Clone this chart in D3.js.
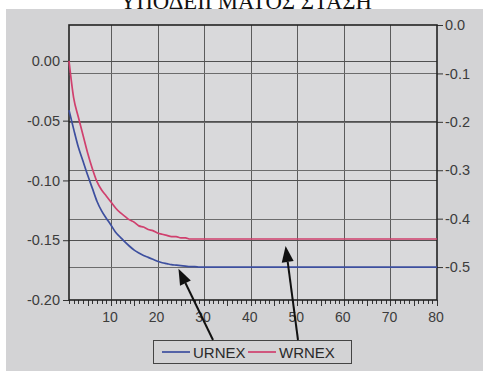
<!DOCTYPE html>
<html>
<head>
<meta charset="utf-8">
<script src="https://cdn.jsdelivr.net/npm/d3@7"></script>
<style>
  body { margin: 0; background: #fff; }
  svg { display: block; }
</style>
</head>
<body>
<svg id="chart" width="483" height="371"></svg>
<script>
// Impulse responses over 80 periods
const periods = d3.range(1, 81);

// URNEX, read against the right-hand axis
const urnex = [
  -0.176, -0.215, -0.252, -0.281, -0.310, -0.337, -0.364, -0.384, -0.399, -0.413,
  -0.428, -0.438, -0.448, -0.457, -0.465, -0.471, -0.476, -0.480, -0.484, -0.488,
  -0.491, -0.493, -0.495, -0.496, -0.497, -0.498, -0.499, -0.499, -0.500, -0.500,
  -0.500, -0.500, -0.500, -0.500, -0.500, -0.500, -0.500, -0.500, -0.500, -0.500,
  -0.500, -0.500, -0.500, -0.500, -0.500, -0.500, -0.500, -0.500, -0.500, -0.500,
  -0.500, -0.500, -0.500, -0.500, -0.500, -0.500, -0.500, -0.500, -0.500, -0.500,
  -0.500, -0.500, -0.500, -0.500, -0.500, -0.500, -0.500, -0.500, -0.500, -0.500,
  -0.500, -0.500, -0.500, -0.500, -0.500, -0.500, -0.500, -0.500, -0.500, -0.500
];

// WRNEX, read against the left-hand axis
const wrnex = [
   0.000, -0.031, -0.047, -0.062, -0.077, -0.090, -0.101, -0.108, -0.113, -0.118,
  -0.123, -0.127, -0.130, -0.133, -0.135, -0.138, -0.139, -0.141, -0.142, -0.144,
  -0.145, -0.146, -0.147, -0.147, -0.148, -0.148, -0.149, -0.149, -0.149, -0.149,
  -0.149, -0.149, -0.149, -0.149, -0.149, -0.149, -0.149, -0.149, -0.149, -0.149,
  -0.149, -0.149, -0.149, -0.149, -0.149, -0.149, -0.149, -0.149, -0.149, -0.149,
  -0.149, -0.149, -0.149, -0.149, -0.149, -0.149, -0.149, -0.149, -0.149, -0.149,
  -0.149, -0.149, -0.149, -0.149, -0.149, -0.149, -0.149, -0.149, -0.149, -0.149,
  -0.149, -0.149, -0.149, -0.149, -0.149, -0.149, -0.149, -0.149, -0.149, -0.149
];

const leftTicks = [0, -0.05, -0.10, -0.15, -0.20];
const rightTicks = [0, -0.1, -0.2, -0.3, -0.4, -0.5];
const xTicks = [10, 20, 30, 40, 50, 60, 70, 80];
const seriesNames = ["URNEX", "WRNEX"];
const titleText = "ΥΠΟΔΕΙΓΜΑΤΟΣ ΣΤΑΣΗ";
// periods the two callout arrows point at
const calloutPeriods = [24.5, 47.5];

const svg = d3.select("#chart");
const frame = { left: 69, right: 437, top: 25, bottom: 300 };

const x = d3.scaleLinear().domain([1, 80]).range([frame.left, frame.right]);
const yL = d3.scaleLinear().domain([-0.2, 0.03]).range([frame.bottom, frame.top]);
const yR = d3.scaleLinear().domain([-0.568, 0]).range([frame.bottom, frame.top]);

const colors = { URNEX: "#3d4f9f", WRNEX: "#d0406e" };
const hyphen = f => d => f(d).replace("\u2212", "-");
const valueAt = (arr, p) => arr[Math.round(p) - 1];

// page title, running off the top edge
svg.append("text")
  .attr("x", 120).attr("y", 8.5)
  .attr("textLength", 252).attr("lengthAdjust", "spacingAndGlyphs")
  .attr("font-family", "Liberation Serif, DejaVu Serif, serif")
  .attr("font-size", 23)
  .attr("fill", "#111")
  .text(titleText);

// grey panel and plot area
svg.append("rect").attr("x", 6).attr("y", 9).attr("width", 477).attr("height", 362)
  .attr("fill", "#d3d3d5");
svg.append("rect")
  .attr("x", frame.left).attr("y", frame.top)
  .attr("width", frame.right - frame.left).attr("height", frame.bottom - frame.top)
  .attr("fill", "#d9d9db");

// grid
const grid = svg.append("g").attr("shape-rendering", "crispEdges");
grid.selectAll("line.v").data(xTicks.slice(0, -1)).join("line")
  .attr("x1", d => Math.round(x(d)) + 0.5).attr("x2", d => Math.round(x(d)) + 0.5)
  .attr("y1", frame.top).attr("y2", frame.bottom)
  .attr("stroke", "#5c5c5c").attr("stroke-width", 1);
grid.selectAll("line.hl").data(leftTicks.slice(0, -1)).join("line")
  .attr("x1", frame.left).attr("x2", frame.right)
  .attr("y1", d => Math.round(yL(d)) + 0.5).attr("y2", d => Math.round(yL(d)) + 0.5)
  .attr("stroke", "#505050").attr("stroke-width", 1);
grid.selectAll("line.hr").data(rightTicks.slice(1)).join("line")
  .attr("x1", frame.left).attr("x2", frame.right)
  .attr("y1", d => Math.round(yR(d)) + 0.5).attr("y2", d => Math.round(yR(d)) + 0.5)
  .attr("stroke", "#6c6c6c").attr("stroke-width", 1);

// minor ticks below the bottom edge, one per period
svg.append("g").attr("shape-rendering", "crispEdges")
  .selectAll("line").data(periods).join("line")
  .attr("x1", d => Math.round(x(d)) + 0.5).attr("x2", d => Math.round(x(d)) + 0.5)
  .attr("y1", frame.bottom).attr("y2", d => frame.bottom + (d % 5 === 0 ? 5.5 : 3.5))
  .attr("stroke", "#333").attr("stroke-width", 1);

// axes
const tickFont = size => g => g.selectAll("text")
  .attr("font-family", "Liberation Sans, Arial, sans-serif")
  .attr("font-size", size).attr("fill", "#3c3c3c");

svg.append("g").attr("transform", `translate(${frame.left},0)`)
  .call(d3.axisLeft(yL).tickValues(leftTicks).tickSize(6).tickPadding(3)
    .tickFormat(hyphen(d3.format(".2f"))))
  .call(g => g.select(".domain").remove())
  .call(g => g.selectAll("line").attr("stroke", "#333"))
  .call(tickFont(14.5));

svg.append("g").attr("transform", `translate(${frame.right},0)`)
  .call(d3.axisRight(yR).tickValues(rightTicks).tickSize(6).tickPadding(2)
    .tickFormat(hyphen(d3.format(".1f"))))
  .call(g => g.select(".domain").remove())
  .call(g => g.selectAll("line").attr("stroke", "#333"))
  .call(tickFont(14.5));

svg.append("g").attr("transform", `translate(0,${frame.bottom})`)
  .call(d3.axisBottom(x).tickValues(xTicks).tickSize(0).tickPadding(12))
  .call(g => g.select(".domain").remove())
  .call(g => g.selectAll("text").attr("dx", -1.5))
  .call(tickFont(14));

// plot frame
svg.append("rect")
  .attr("x", frame.left).attr("y", frame.top)
  .attr("width", frame.right - frame.left).attr("height", frame.bottom - frame.top)
  .attr("fill", "none").attr("stroke", "#222").attr("stroke-width", 1.6);

// series lines
const lineL = d3.line().x((d, i) => x(periods[i])).y(d => yL(d)).curve(d3.curveMonotoneX);
const lineR = d3.line().x((d, i) => x(periods[i])).y(d => yR(d)).curve(d3.curveMonotoneX);

svg.append("path").datum(wrnex).attr("d", lineL)
  .attr("fill", "none").attr("stroke", colors.WRNEX).attr("stroke-width", 1.7);
svg.append("path").datum(urnex).attr("d", lineR)
  .attr("fill", "none").attr("stroke", colors.URNEX).attr("stroke-width", 1.7);

// legend
const legend = svg.append("g");
legend.append("rect").attr("x", 153.5).attr("y", 340.5).attr("width", 198).attr("height", 23)
  .attr("fill", "#d3d3d5").attr("stroke", "#444").attr("stroke-width", 1);
const legendX = [162, 248];
seriesNames.forEach((name, i) => {
  legend.append("line")
    .attr("x1", legendX[i]).attr("x2", legendX[i] + 28)
    .attr("y1", 352).attr("y2", 352)
    .attr("stroke", colors[name]).attr("stroke-width", 1.7);
  legend.append("text")
    .attr("x", legendX[i] + 31).attr("y", 357.5)
    .attr("font-family", "Liberation Sans, Arial, sans-serif")
    .attr("font-size", 15).attr("fill", "#2a2a2a")
    .text(name);
});

// callout arrows from the legend up to each curve
const heads = [
  [x(calloutPeriods[0]), yR(valueAt(urnex, calloutPeriods[0])) + 3],
  [x(calloutPeriods[1]), yL(valueAt(wrnex, calloutPeriods[1])) + 7]
];
const tails = [[213, 340], [298, 340]];
heads.forEach((h, i) => {
  const t = tails[i];
  const ang = Math.atan2(h[1] - t[1], h[0] - t[0]);
  const len = 16, half = 6;
  const bx = h[0] - len * Math.cos(ang), by = h[1] - len * Math.sin(ang);
  svg.append("line")
    .attr("x1", t[0]).attr("y1", t[1]).attr("x2", bx).attr("y2", by)
    .attr("stroke", "#111").attr("stroke-width", 2);
  svg.append("path")
    .attr("d", d3.line()([
      h,
      [bx + half * Math.sin(ang), by - half * Math.cos(ang)],
      [bx - half * Math.sin(ang), by + half * Math.cos(ang)]
    ]) + "Z")
    .attr("fill", "#111");
});
</script>
</body>
</html>
